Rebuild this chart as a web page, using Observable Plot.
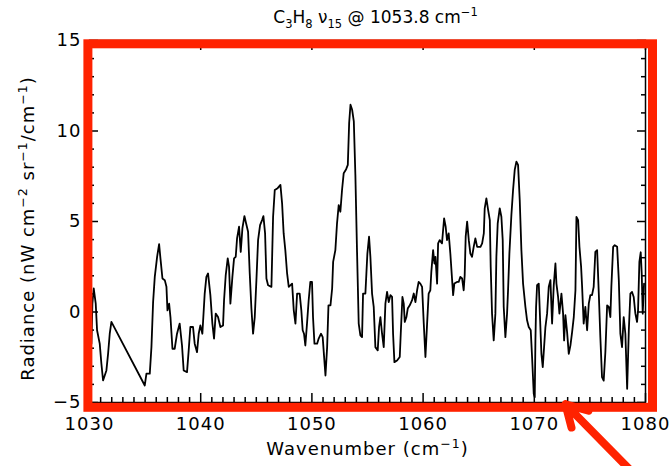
<!DOCTYPE html>
<html>
<head>
<meta charset="utf-8">
<script src="https://cdn.jsdelivr.net/npm/d3@7"></script>
<script src="https://cdn.jsdelivr.net/npm/@observablehq/plot@0.6"></script>
<style>
  body { margin: 0; background: #fff; }
  #chart svg { display: block; }
</style>
</head>
<body>
<div id="chart"></div>
<script>
// Propane nu15 band spectrum: wavenumber (cm^-1) and radiance (nW cm^-2 sr^-1 / cm^-1)
const wavenumber = [
  1030.17, 1030.26, 1030.38, 1030.56, 1030.68, 1030.92, 1031.07, 1031.22, 1031.52, 1031.67,
  1031.82, 1031.97, 1034.97, 1035.12, 1035.42, 1035.57, 1035.72, 1035.87, 1036.08, 1036.26,
  1036.38, 1036.56, 1036.77, 1036.92, 1037.01, 1037.16, 1037.28, 1037.46, 1037.66, 1037.87,
  1038.11, 1038.32, 1038.47, 1038.77, 1038.92, 1039.07, 1039.31, 1039.46, 1039.67, 1039.82,
  1039.97, 1040.15, 1040.36, 1040.51, 1040.66, 1040.87, 1041.05, 1041.20, 1041.35, 1041.56,
  1041.77, 1042.01, 1042.10, 1042.25, 1042.43, 1042.55, 1042.67, 1042.85, 1043.00, 1043.15,
  1043.27, 1043.45, 1043.60, 1043.75, 1043.93, 1044.08, 1044.26, 1044.41, 1044.56, 1044.71,
  1044.86, 1045.01, 1045.16, 1045.34, 1045.52, 1045.64, 1045.79, 1045.91, 1046.06, 1046.36,
  1046.51, 1046.66,
  1046.92, 1047.17, 1047.32, 1047.46, 1047.61, 1047.77, 1047.92, 1048.22, 1048.37, 1048.52,
  1048.67, 1048.90, 1049.05, 1049.17, 1049.29, 1049.41, 1049.56, 1049.71, 1049.86, 1050.01,
  1050.10, 1050.23, 1050.47, 1050.61, 1050.82, 1050.97, 1051.10, 1051.22, 1051.37, 1051.49,
  1051.67, 1051.82, 1051.91, 1052.11, 1052.26, 1052.41, 1052.56, 1052.71, 1052.86, 1053.08,
  1053.23, 1053.35, 1053.47, 1053.62, 1053.77, 1053.91, 1054.06, 1054.21, 1054.36, 1054.51,
  1054.60, 1054.81, 1054.90, 1054.99, 1055.14, 1055.26, 1055.41, 1055.56, 1055.71, 1055.92,
  1056.04, 1056.16, 1056.31, 1056.46, 1056.61, 1056.76, 1056.91, 1057.06, 1057.21, 1057.30,
  1057.42, 1057.66, 1057.90, 1057.99, 1058.14, 1058.26, 1058.35, 1058.50, 1058.62, 1058.80,
  1059.01, 1059.16, 1059.31, 1059.46, 1059.60, 1059.75, 1059.91, 1060.06, 1060.21, 1060.36,
  1060.50, 1060.65, 1060.74, 1060.90, 1061.02, 1061.11, 1061.26, 1061.35, 1061.49, 1061.70,
  1061.80, 1061.89, 1062.03, 1062.15, 1062.30, 1062.45, 1062.61, 1062.70, 1062.81, 1063.05,
  1063.20, 1063.35, 1063.51, 1063.65, 1063.74, 1063.83, 1063.96, 1064.11, 1064.25, 1064.40,
  1064.55, 1064.70, 1064.86, 1065.16, 1065.31, 1065.46, 1065.54, 1065.69, 1065.85, 1066.00,
  1066.08, 1066.20, 1066.35, 1066.50, 1066.59, 1066.71, 1066.89, 1067.04, 1067.16, 1067.25,
  1067.40, 1067.55, 1067.64, 1067.76, 1067.94, 1068.09, 1068.24, 1068.39, 1068.54, 1068.69,
  1068.84, 1068.99, 1069.20, 1069.35, 1069.50, 1069.68, 1069.80, 1069.95, 1070.04, 1070.10,
  1070.16, 1070.25, 1070.40, 1070.49, 1070.64, 1070.76, 1070.88, 1071.00, 1071.15, 1071.30,
  1071.45, 1071.60, 1071.75, 1071.90, 1071.99, 1072.14, 1072.26, 1072.44, 1072.59, 1072.68,
  1072.80, 1072.95, 1073.10, 1073.25, 1073.40, 1073.55, 1073.70, 1073.79, 1073.94, 1074.06,
  1074.21, 1074.30, 1074.44, 1074.59, 1074.75, 1074.90, 1075.04, 1075.19, 1075.34, 1075.49,
  1075.65, 1075.80, 1075.94, 1076.09, 1076.24, 1076.39, 1076.55, 1076.70, 1076.84, 1076.93,
  1077.09, 1077.23, 1077.45, 1077.60, 1077.74, 1077.89, 1078.04, 1078.19, 1078.35, 1078.50,
  1078.64, 1078.79, 1078.94, 1079.09, 1079.24, 1079.33, 1079.45, 1079.57, 1079.66, 1079.75,
  1079.87
];

const radiance = [
  -1.75, 0.46, 1.30, 0.46, -1.01, -1.75, -2.86, -3.78, -3.23, -2.31,
  -1.20, -0.55, -4.06, -3.41, -3.41, -1.94, 0.55, 1.94, 3.05, 3.75,
  2.96, 1.85, 1.76, 1.39, 0.09, 0.46, -0.28, -2.03, -2.03, -1.20,
  -0.64, -1.85, -3.23, -3.32, -2.12, -0.83, -0.83, -1.75, -2.22, -1.20,
  -0.74, -1.20, 1.02, 1.94, 2.13, 0.93, -0.64, -1.47, -0.09, -0.28,
  -0.83, -0.74, 0.65, 2.03, 2.96, 2.49, 0.46, 1.94, 2.96, 3.05,
  4.07, 4.71, 3.32, 4.62, 5.30, 4.90, 4.43, 2.13, 0.19, -1.20,
  -0.28, 1.76, 3.97, 4.80, 5.08, 5.30, 4.34, 1.85, 1.48, 1.39,
  5.26, 6.74,
  6.84, 7.02, 6.00, 4.34, 3.42, 2.13, 1.39, 1.57, 0.09, -0.64,
  1.02, 1.02, 0.09, -1.01, -1.20, -1.85, -0.64, 0.65, 1.66, 1.66,
  -0.28, -1.75, -1.75, -1.47, -1.20, -1.39, -2.49, -3.51, -1.94, 0.37,
  0.37, 1.30, 2.77, 3.42, 4.90, 5.91, 5.54, 6.74, 7.67, 7.89,
  8.13, 10.44, 11.45, 11.17, 10.53, 7.57, 3.32, -0.64, -1.29, -1.39,
  1.02, 1.02, 2.13, 3.23, 4.16, 3.05, 1.02, 0.28, -1.94, -2.12,
  -0.83, -0.28, -1.20, -1.94, 0.46, 1.11, 0.55, 0.93, 0.83, -1.20,
  -2.77, -2.68, -2.49, -1.20, 0.83, 0.46, -0.55, -0.28, 0.19, 0.37,
  0.65, 1.02, 0.55, 1.20, 1.66, 1.57, 1.39, -0.64, -2.49, -0.64,
  1.02, 1.20, 2.22, 3.42, 2.68, 3.05, 1.57, 3.79, 3.97, 3.79,
  4.53, 5.17, 4.71, 3.97, 4.34, 3.23, 1.76, 0.93, 1.57, 1.66,
  1.66, 1.94, 1.85, 1.20, 2.03, 4.16, 4.99, 3.97, 3.23, 3.05,
  3.60, 4.07, 3.60, 3.60, 3.79, 4.34, 5.73, 6.28, 5.63, 5.08,
  2.49, -0.09, -1.57, -0.09, 3.05, 4.90, 5.73, 5.26, 3.97, 0.28,
  -1.39, -0.09, 1.20, 3.23, 5.36, 6.74, 7.85, 8.31, 8.13, 6.19,
  3.42, 1.57, 0.28, -0.46, -0.83, -1.01, -2.49, -4.52, -4.71, -1.57,
  0.28, 1.48, 1.57, 0.09, -2.31, -3.05, -1.94, -0.83, -0.09, 1.39,
  1.76, -0.64, 1.48, 2.68, 1.57, 0.83, -0.09, 1.02, -0.09, -1.57,
  -0.18, -1.11, -2.31, -1.84, -1.11, -0.28, 1.20, 5.26, 5.08, 3.60,
  2.49, 1.39, -0.64, 0.28, -1.01, 0.46, 0.93, 0.93, 1.39, 3.32,
  3.42, 1.02, -1.39, -3.60, -3.79, -2.22, 0.37, 0.28, -0.28, 1.39,
  3.60, 3.69, 3.60, 1.76, -1.20, -1.94, -0.28, -1.20, -4.24, -1.01,
  1.02, 1.11, 0.83, -0.09, -0.55, 0.09, 2.77, 3.30, 2.13, -0.09,
  1.57
];

// Axis ranges and tick values
const xDomain = [1030, 1080];
const yDomain = [-5, 15];
const xMajorTicks = [1030, 1040, 1050, 1060, 1070, 1080];
const yMajorTicks = [-5, 0, 5, 10, 15];
const xMinorTicks = d3.range(1030, 1081, 1).filter(v => !xMajorTicks.includes(v));
const yMinorTicks = d3.range(-5, 16, 1).filter(v => !yMajorTicks.includes(v));

// Text
const titleText = "C\u2083H\u2088 \u03bd\u2081\u2085 @ 1053.8 cm\u207b\u00b9";
const xLabel = "Wavenumber (cm\u207b\u00b9)";
const yLabel = "Radiance (nW cm\u207b\u00b2 sr\u207b\u00b9/cm\u207b\u00b9)";

// Highlight arrow pointing at the frame (tail, tip) in axis units
const arrowTail = {x: 1081.3, y: -10.4};
const arrowTip = {x: 1072.8, y: -5.1};

const spectrum = wavenumber.map((w, i) => ({w, r: radiance[i]}));

const red = "#ff2200";
const font = "DejaVu Sans";

// Inward ticks on all four sides (negative tick size points into the frame)
const tickOpts = {fill: "none", label: null, strokeWidth: 1.5, stroke: "black"};
const inwardTicks = [
  Plot.axisX(xMinorTicks, {...tickOpts, anchor: "bottom", tickSize: -5}),
  Plot.axisX(xMinorTicks, {...tickOpts, anchor: "top", tickSize: -5}),
  Plot.axisX(xMajorTicks, {...tickOpts, anchor: "bottom", tickSize: -9}),
  Plot.axisX(xMajorTicks, {...tickOpts, anchor: "top", tickSize: -9}),
  Plot.axisY(yMinorTicks, {...tickOpts, anchor: "left", tickSize: -5}),
  Plot.axisY(yMinorTicks, {...tickOpts, anchor: "right", tickSize: -5}),
  Plot.axisY(yMajorTicks, {...tickOpts, anchor: "left", tickSize: -9}),
  Plot.axisY(yMajorTicks, {...tickOpts, anchor: "right", tickSize: -9})
];

const chart = Plot.plot({
  width: 670,
  height: 466,
  marginLeft: 89,
  marginRight: 25,
  marginTop: 40,
  marginBottom: 64,
  style: {fontFamily: font, fontSize: "18px", color: "black", background: "white"},
  x: {domain: xDomain},
  y: {domain: yDomain},
  marks: [
    Plot.axisX(xMajorTicks, {anchor: "bottom", tickSize: 0, tickPadding: 15, tickFormat: "d", label: null, fontSize: 18}),
    Plot.axisY(yMajorTicks, {anchor: "left", tickSize: 0, tickPadding: 8, tickFormat: "d", label: null, fontSize: 18}),
    ...inwardTicks,
    Plot.frame({stroke: "black", strokeWidth: 1.5}),
    Plot.line(spectrum, {x: "w", y: "r", stroke: "black", strokeWidth: 1.8}),
    Plot.frame({stroke: red, strokeWidth: 9, insetLeft: -1.6, insetRight: -7, insetTop: 3.3, insetBottom: -4.8}),
    Plot.arrow([{tail: arrowTail, tip: arrowTip}], {
      x1: d => d.tail.x, y1: d => d.tail.y, x2: d => d.tip.x, y2: d => d.tip.y,
      stroke: red, strokeWidth: 8, headLength: 4.5, headAngle: 60, clip: false
    }),
    Plot.text([titleText], {frameAnchor: "top", dx: 8, dy: -23, fontSize: 17, lineAnchor: "middle"}),
    Plot.text([xLabel], {frameAnchor: "bottom", dy: 47, fontSize: 18, lineAnchor: "middle", textAnchor: "middle"}),
    Plot.text([yLabel], {frameAnchor: "left", dx: -61, dy: 7, rotate: -90, fontSize: 18, lineAnchor: "middle", textAnchor: "middle"})
  ]
});

// Render Unicode super/subscript runs as raised/lowered tspans at a smaller size
const scriptChars = {
  "\u207b": ["\u2212", "sup"], "\u00b9": ["1", "sup"], "\u00b2": ["2", "sup"],
  "\u2081": ["1", "sub"], "\u2083": ["3", "sub"], "\u2085": ["5", "sub"], "\u2088": ["8", "sub"]
};
const shift = {sup: -7, sub: 5, base: 0};
function typesetScripts(textEl, scriptSize) {
  const str = textEl.textContent;
  if (![...str].some(c => scriptChars[c])) return;
  const runs = [];
  for (const c of str) {
    const kind = scriptChars[c] ? scriptChars[c][1] : "base";
    const ch = scriptChars[c] ? scriptChars[c][0] : c;
    if (runs.length && runs[runs.length - 1].kind === kind) runs[runs.length - 1].text += ch;
    else runs.push({kind, text: ch});
  }
  while (textEl.firstChild) textEl.removeChild(textEl.firstChild);
  let level = 0;
  for (const run of runs) {
    const ts = document.createElementNS("http://www.w3.org/2000/svg", "tspan");
    const target = shift[run.kind];
    if (target !== level) ts.setAttribute("dy", target - level);
    level = target;
    if (run.kind !== "base") ts.setAttribute("font-size", scriptSize);
    ts.textContent = run.text;
    textEl.appendChild(ts);
  }
}

const svg = d3.select(chart);
svg.selectAll("text").each(function () {
  const isTitle = this.textContent === titleText;
  typesetScripts(this, isTitle ? 11.5 : 12.5);
  // Slightly wider letter spacing for the axis labels and tick labels
  if (!isTitle) d3.select(this).style("letter-spacing", "1px");
});

document.getElementById("chart").append(chart);
</script>
</body>
</html>
